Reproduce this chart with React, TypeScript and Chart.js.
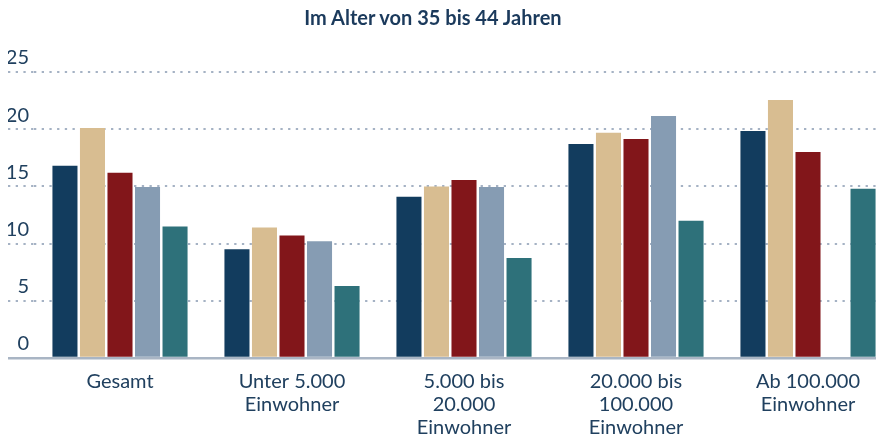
import React, { useEffect, useRef } from "react";
import { Chart, registerables } from "chart.js";

Chart.register(...registerables);

const title = "Im Alter von 35 bis 44 Jahren";
const categories: string[][] = [
  ["Gesamt"],
  ["Unter 5.000", "Einwohner"],
  ["5.000 bis", "20.000", "Einwohner"],
  ["20.000 bis", "100.000", "Einwohner"],
  ["Ab 100.000", "Einwohner"],
];
const seriesNames = ["Reihe 1", "Reihe 2", "Reihe 3", "Reihe 4", "Reihe 5"];
const series1 = [16.8, 9.5, 14.1, 18.7, 19.85];
const series2 = [20.1, 11.4, 15.0, 19.7, 22.55];
const series3 = [16.2, 10.7, 15.55, 19.15, 18.0];
const series4 = [14.95, 10.2, 14.95, 21.15, null];
const series5 = [11.5, 6.3, 8.75, 12.0, 14.8];
const colors = ["#123c5e", "#d8bd91", "#82161a", "#869cb3", "#2e717a"];
const yMin = 0;
const yMax = 25;
const yStep = 5;

const FONT = "Lato, 'Noto Sans', sans-serif";
const TEXT = "#20405f";
const DOT = [2.3, 5.4];

export default function App() {
  const ref = useRef<HTMLCanvasElement | null>(null);

  useEffect(() => {
    document.documentElement.style.overflow = "hidden";
    document.body.style.marginRight = "0px";
    if (!ref.current) return;
    const all = [series1, series2, series3, series4, series5];
    const chart = new Chart(ref.current, {
      type: "bar",
      data: {
        labels: categories as any,
        datasets: all.map((d, i) => ({
          label: seriesNames[i],
          data: d as any,
          backgroundColor: colors[i],
          borderWidth: 0,
          categoryPercentage: 0.8,
          barPercentage: 0.91,
        })),
      },
      options: {
        responsive: false,
        animation: false,
        layout: { padding: { top: 64, left: 0, right: 0, bottom: 0 } },
        plugins: {
          legend: { display: false },
          title: { display: false },
          tooltip: { enabled: false },
        },
        scales: {
          x: {
            grid: { display: false, drawTicks: false },
            border: { display: false },
            ticks: {
              color: TEXT,
              font: { family: FONT, size: 20, lineHeight: 1.15 },
              padding: 12,
              maxRotation: 0,
              autoSkip: false,
            },
            afterFit: (s: any) => {
              s.height = 80;
            },
          },
          y: {
            min: yMin,
            max: yMax,
            border: {
              display: false,
              dash: (ctx: any) => (ctx.tick && ctx.tick.value === 0 ? [] : DOT),
            },
            grid: {
              color: (ctx: any) =>
                ctx.tick && ctx.tick.value === 0 ? "#a9b5c4" : "rgba(135,152,176,0.75)",
              lineWidth: (ctx: any) => (ctx.tick && ctx.tick.value === 0 ? 2.5 : 2),
              tickLength: 26,
              tickBorderDash: (ctx: any) =>
                ctx.tick && ctx.tick.value === 0 ? [] : DOT,
            } as any,
            ticks: {
              stepSize: yStep,
              color: TEXT,
              font: { family: FONT, size: 20 },
              padding: -21,
              labelOffset: -14,
            },
            afterFit: (s: any) => {
              s.width = 26;
            },
          },
        },
      },
    });
    return () => chart.destroy();
  }, []);

  return (
    <div style={{ position: "relative", width: 868, height: 430, overflow: "hidden" }}>
      <canvas ref={ref} width={886} height={430} style={{ display: "block", width: 886, height: 430 }} />
      <div
        style={{
          position: "absolute",
          left: 0,
          top: -1,
          width: 850,
          textAlign: "center",
          fontFamily: FONT,
          fontWeight: 700,
          fontSize: 20,
          lineHeight: "20px",
          color: "#1b3a5c",
        }}
      >
        {title}
      </div>
    </div>
  );
}
